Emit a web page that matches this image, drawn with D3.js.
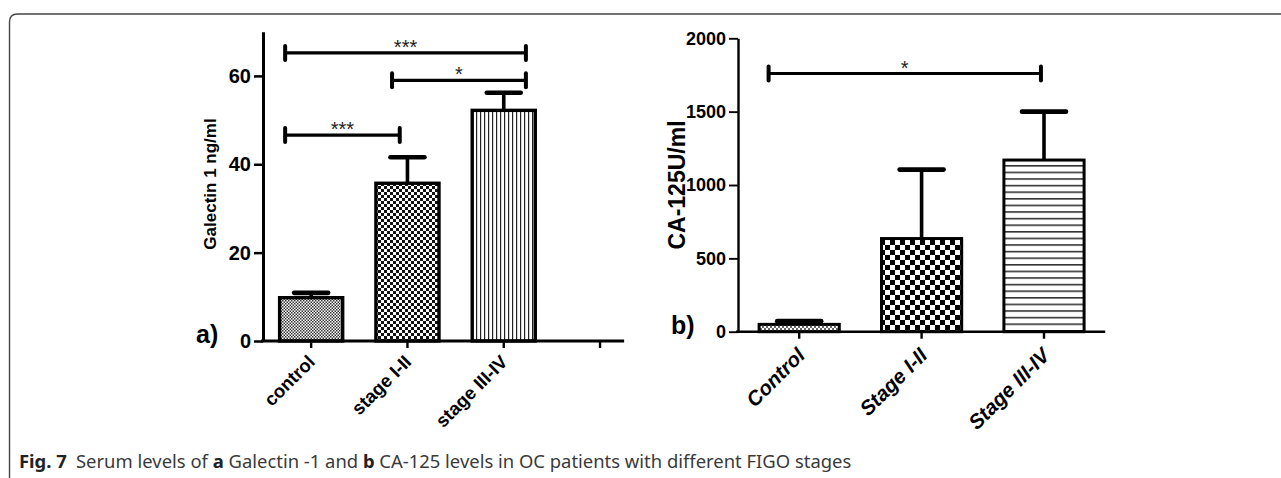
<!DOCTYPE html>
<html>
<head>
<meta charset="utf-8">
<script src="https://cdn.jsdelivr.net/npm/d3@7"></script>
<style>
  body { margin: 0; background: #fff; }
  svg text { font-family: "Liberation Sans", Arial, sans-serif; }
</style>
</head>
<body>
<div id="viz-container"></div>
<script>
// panel a: galectin-1 (ng/ml), mean + SEM
let catsA = ["control", "stage I-II", "stage III-IV", ""];
let meanA = [9.8, 35.7, 52.2];
let semA = [1.1, 5.9, 4.0];
let ticksA = [0, 20, 40, 60];
// brackets: ends in category-index units, height in data units
let sigA = [
  {from: -0.27, to: 2.23, y: 65.2, label: "***"},
  {from: 0.84, to: 2.23, y: 59.0, label: "*"},
  {from: -0.27, to: 0.92, y: 46.6, label: "***"}
];

// panel b: CA-125 (U/ml)
let catsB = ["Control", "Stage I-II", "Stage III-IV"];
let meanB = [50, 635, 1170];
let semB = [22, 470, 330];
let ticksB = [0, 500, 1000, 1500, 2000];
let sigB = [
  {from: -0.25, to: 1.975, y: 1760, label: "*"}
];

let viz = d3.select("#viz-container")
  .append("svg")
    .attr("width", 1281)
    .attr("height", 478)
;

// patterns for the bars
let defs = viz.append("defs");

function checker(id, cell, color) {
  let p = defs.append("pattern")
    .attr("id", id)
    .attr("patternUnits", "userSpaceOnUse")
    .attr("width", cell * 2)
    .attr("height", cell * 2);
  p.append("rect").attr("width", cell * 2).attr("height", cell * 2).attr("fill", "#fff");
  p.append("rect").attr("width", cell).attr("height", cell).attr("fill", color);
  p.append("rect").attr("x", cell).attr("y", cell).attr("width", cell).attr("height", cell).attr("fill", color);
}
function stripes(id, gap, w, vertical, color) {
  let p = defs.append("pattern")
    .attr("id", id)
    .attr("patternUnits", "userSpaceOnUse")
    .attr("width", gap)
    .attr("height", gap);
  p.append("rect").attr("width", gap).attr("height", gap).attr("fill", "#fff");
  if (vertical) {
    p.append("rect").attr("width", w).attr("height", gap).attr("fill", color);
  } else {
    p.append("rect").attr("width", gap).attr("height", w).attr("fill", color);
  }
}
checker("pa1", 1.5, "#333");
checker("pa2", 3, "#111");
stripes("pa3", 4, 1.2, true, "#222");
checker("pb1", 2, "#666");
checker("pb2", 5, "#000");
stripes("pb3", 6.6, 1.6, false, "#333");

// outer frame of the figure
viz.append("path")
  .attr("d", "M9.5,480 V22 Q9.5,14 17.5,14 H1285")
  .attr("fill", "none")
  .attr("stroke", "#444")
  .attr("stroke-width", 1.4);

function panel(o) {
  let g = viz.append("g");
  let n = o.cats.length;

  let xBand = d3.scaleBand().domain(o.cats).range([o.x0, o.x1]).padding(0);
  let step = xBand.step();
  // category index -> pixel (center of band)
  let xi = d3.scaleLinear().domain([-0.5, n - 0.5]).range([o.x0, o.x1]);
  let y = d3.scaleLinear().domain([0, o.yMax]).range([o.yBase, o.yTop]);
  let bw = step * 0.655;

  // bars
  g.selectAll(".bar")
    .data(o.mean)
    .enter()
    .append("rect")
      .attr("x", (d, i) => xi(i) - bw / 2)
      .attr("y", d => y(d))
      .attr("width", bw)
      .attr("height", d => y(0) - y(d))
      .attr("fill", (d, i) => "url(#" + o.fills[i] + ")")
      .attr("stroke", "#000")
      .attr("stroke-width", o.barStroke)
  ;

  // error bars (upper only)
  g.selectAll(".stem")
    .data(o.mean)
    .enter()
    .append("line")
      .attr("x1", (d, i) => xi(i))
      .attr("x2", (d, i) => xi(i))
      .attr("y1", d => y(d))
      .attr("y2", (d, i) => y(d + o.sem[i]))
      .attr("stroke", "#000")
      .attr("stroke-width", 3.6)
  ;
  g.selectAll(".cap")
    .data(o.mean)
    .enter()
    .append("line")
      .attr("x1", (d, i) => xi(i) - o.capW / 2)
      .attr("x2", (d, i) => xi(i) + o.capW / 2)
      .attr("y1", (d, i) => y(d + o.sem[i]))
      .attr("y2", (d, i) => y(d + o.sem[i]))
      .attr("stroke", "#000")
      .attr("stroke-width", 4.6)
      .attr("stroke-linecap", "round")
  ;

  // y axis
  let yAxis = g.append("g")
    .attr("transform", "translate(" + o.x0 + ",0)")
    .call(d3.axisLeft(y).tickValues(o.ticks).tickFormat(d3.format("d"))
      .tickSize(9).tickSizeOuter(0).tickPadding(3));
  yAxis.select(".domain").attr("stroke-width", o.axisW).attr("stroke", "#000");
  yAxis.selectAll(".tick line").attr("stroke-width", o.axisW - 0.5).attr("stroke", "#000");
  yAxis.selectAll(".tick text")
    .attr("font-size", o.tickSize)
    .attr("font-weight", "bold")
    .attr("fill", "#000");

  // x axis
  let xAxis = g.append("g")
    .attr("transform", "translate(0," + o.yBase + ")")
    .call(d3.axisBottom(xBand).tickSize(7).tickSizeOuter(0));
  xAxis.select(".domain").remove();
  xAxis.selectAll(".tick line").attr("stroke-width", 2.4).attr("stroke", "#000");
  xAxis.selectAll(".tick text").remove();
  xAxis.append("line")
    .attr("x1", o.x0 - 2)
    .attr("x2", xi(o.axisEnd))
    .attr("stroke", "#000")
    .attr("stroke-width", o.axisW);
  xAxis.selectAll(".tick")
    .append("text")
      .attr("transform", "translate(" + o.lblDx + "," + o.lblDy + ") rotate(-45)")
      .attr("text-anchor", "end")
      .attr("font-size", o.lblSize)
      .attr("font-weight", "bold")
      .attr("font-style", o.lblItalic ? "italic" : "normal")
      .attr("fill", "#000")
      .text(d => d);

  // significance brackets
  o.sig.forEach(s => {
    let yy = y(s.y);
    g.append("line")
      .attr("x1", xi(s.from)).attr("x2", xi(s.to))
      .attr("y1", yy).attr("y2", yy)
      .attr("stroke", "#000").attr("stroke-width", 3.2);
    [s.from, s.to].forEach(e => {
      g.append("line")
        .attr("x1", xi(e)).attr("x2", xi(e))
        .attr("y1", yy - 7).attr("y2", yy + 7)
        .attr("stroke", "#000").attr("stroke-width", 4)
        .attr("stroke-linecap", "round");
    });
    g.append("text")
      .attr("x", (xi(s.from) + xi(s.to)) / 2)
      .attr("y", yy + 1)
      .attr("text-anchor", "middle")
      .attr("font-size", 20)
      .attr("fill", "#222")
      .text(s.label);
  });

  // y axis title
  g.append("text")
    .attr("transform", "translate(" + o.titleX + "," + o.titleY + ") rotate(-90)")
    .attr("text-anchor", "middle")
    .attr("dy", "0.35em")
    .attr("font-size", o.titleSize)
    .attr("font-weight", "bold")
    .attr("fill", "#000")
    .text(o.title);

  // panel letter
  g.append("text")
    .attr("x", o.letterX)
    .attr("y", o.yBase + 2)
    .attr("font-size", 25)
    .attr("font-weight", "bold")
    .attr("fill", "#000")
    .text(o.letter);
}

panel({
  cats: catsA, mean: meanA, sem: semA, ticks: ticksA, sig: sigA,
  fills: ["pa1", "pa2", "pa3"],
  x0: 263, x1: 648.2, yBase: 341, yTop: 31.7, yMax: 70,
  axisEnd: 3.25, axisW: 3, barStroke: 3.4, capW: 34, tickSize: 20,
  lblDx: 5, lblDy: 22, lblSize: 18.5, lblItalic: false,
  title: "Galectin 1 ng/ml", titleX: 210, titleY: 184, titleSize: 17,
  letter: "a)", letterX: 196
});

panel({
  cats: catsB, mean: meanB, sem: semB, ticks: ticksB, sig: sigB,
  fills: ["pb1", "pb2", "pb3"],
  x0: 738, x1: 1105.2, yBase: 331.7, yTop: 38.3, yMax: 2000,
  axisEnd: 2.5, axisW: 2.4, barStroke: 3, capW: 44, tickSize: 18,
  lblDx: 7, lblDy: 25, lblSize: 20.5, lblItalic: true,
  title: "CA-125U/ml", titleX: 677, titleY: 185, titleSize: 23,
  letter: "b)", letterX: 671
});

// caption
let cap = viz.append("text")
  .attr("x", 19)
  .attr("y", 468)
  .attr("font-size", 13.5)
  .attr("fill", "#3a3a3a")
  .style("font-family", "'Noto Sans', 'Open Sans', sans-serif");
cap.append("tspan").attr("font-weight", "bold").attr("fill", "#222").text("Fig. 7");
cap.append("tspan").text("\u2002Serum levels of ");
cap.append("tspan").attr("font-weight", "bold").attr("fill", "#222").text("a");
cap.append("tspan").text(" Galectin -1 and ");
cap.append("tspan").attr("font-weight", "bold").attr("fill", "#222").text("b");
cap.append("tspan").text(" CA-125 levels in OC patients with different FIGO stages");
// fit to the printed width
let w = cap.node().getComputedTextLength();
cap.attr("font-size", 13.5 * 833 / w);
</script>
</body>
</html>
